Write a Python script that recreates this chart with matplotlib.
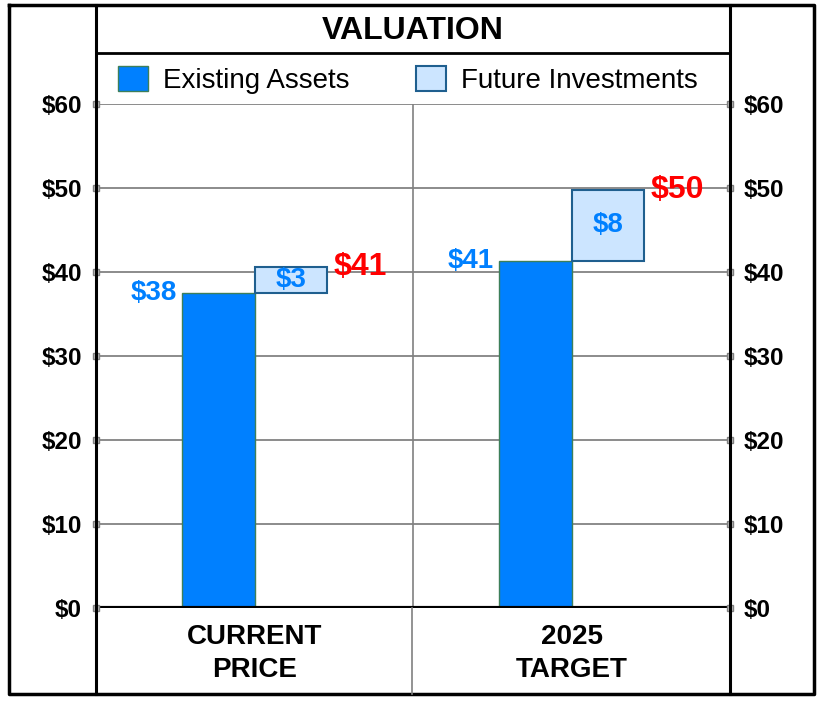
import matplotlib
matplotlib.use('Agg')
import matplotlib.pyplot as plt
from matplotlib.lines import Line2D

plt.rcParams['font.family'] = ['Liberation Sans', 'DejaVu Sans']

# data
categories = ['CURRENT\nPRICE', '2025\nTARGET']
existing = [37.5, 41.3]
future = [3.1, 8.5]
existing_labels = ['$38', '$41']
future_labels = ['$3', '$8']
total_labels = ['$41', '$50']
yticks = [0, 10, 20, 30, 40, 50, 60]
ytick_labels = ['$' + str(v) for v in yticks]

blue = '#0080FF'
light = '#CCE5FF'
W, H = 824, 704

fig = plt.figure(figsize=(W / 100, H / 100), dpi=100)
ax = fig.add_axes([96 / W, 96 / H, 634 / W, 504 / H])
ax.set_xlim(0, 2)
ax.set_ylim(0, 60)

centers = [0.5, 1.5]
bw = 0.23
b1 = ax.bar([c - bw / 2 for c in centers], existing, width=bw, color=blue,
            edgecolor='#3d7f5a', linewidth=1.0, zorder=3, label='Existing Assets')
b2 = ax.bar([c + bw / 2 for c in centers], future, width=bw, bottom=existing,
            color=light, edgecolor='#1f5f8f', linewidth=1.5, zorder=3,
            label='Future Investments')

for i, c in enumerate(centers):
    ax.text(c - bw - 0.015, existing[i], existing_labels[i], ha='right', va='center',
            color=blue, fontsize=20, fontweight='bold', zorder=4)
    ax.text(c + bw / 2, existing[i] + future[i] / 2, future_labels[i], ha='center',
            va='center', color=blue, fontsize=20, fontweight='bold', zorder=4)
    ax.text(c + bw + 0.018, existing[i] + future[i], total_labels[i], ha='left',
            va='center', color='red', fontsize=23, fontweight='bold', zorder=4)
    lines = categories[i].split('\n')
    ax.text(c, -3.45, lines[0], ha='center', va='center', fontsize=20,
            fontweight='bold', clip_on=False)
    ax.text(c, -7.4, lines[1], ha='center', va='center', fontsize=20,
            fontweight='bold', clip_on=False)

# grid
for v in yticks[1:]:
    ax.axhline(v, color='#787878', linewidth=1.2, zorder=1)
ax.axvline(1, color='#808080', linewidth=1.2, zorder=1)
ax.axhline(0, color='black', linewidth=3, zorder=5)

# tick markers and labels on both sides
ax.plot([0] * len(yticks), yticks, 's', color='#c0c0c0', markeredgecolor='#808080',
        markersize=5, clip_on=False, zorder=6)
ax.plot([2] * len(yticks), yticks, 's', color='#c0c0c0', markeredgecolor='#808080',
        markersize=5, clip_on=False, zorder=6)
ax.set_yticks(yticks)
ax.set_yticklabels(ytick_labels, fontsize=17.5, fontweight='bold')
ax.tick_params(axis='y', length=0, pad=10, labelright=True, right=False)
ax.set_xticks([])
for s in ax.spines.values():
    s.set_visible(False)

leg = ax.legend(handles=[b1, b2], loc='center', ncol=2, frameon=False,
                bbox_to_anchor=(408 / W, 1 - 80 / H), bbox_transform=fig.transFigure,
                fontsize=20, handlelength=1.08, handleheight=1.0,
                handletextpad=0.55, columnspacing=2.4, borderpad=0)

# frame overlay in pixel coords
ov = fig.add_axes([0, 0, 1, 1], zorder=10)
ov.set_xlim(0, W)
ov.set_ylim(H, 0)
ov.axis('off')
ov.patch.set_alpha(0)
ov.add_line(Line2D([9, 814, 814, 9, 9], [5, 5, 694, 694, 5], color='black', linewidth=2.5))
ov.add_line(Line2D([96, 96], [5, 694], color='black', linewidth=2.2))
ov.add_line(Line2D([730, 730], [5, 694], color='black', linewidth=2.2))
ov.add_line(Line2D([96, 730], [53, 53], color='black', linewidth=2))
ov.add_line(Line2D([412, 412], [608, 694], color='#808080', linewidth=1.2))
ov.text(413, 31, 'VALUATION', ha='center', va='center', fontsize=23, fontweight='bold')

fig.savefig('out.png', dpi=100)
